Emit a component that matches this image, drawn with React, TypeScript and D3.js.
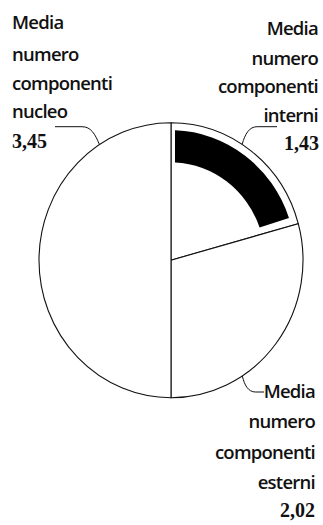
import React from "react";
import * as d3 from "d3";

const categories = ["interni", "esterni", "nucleo"];
const values = [1.43, 2.02, 3.45];
const valueLabels = ["1,43", "2,02", "3,45"];
const labelLines = ["Media", "numero", "componenti"];

const W = 323;
const H = 525;
const cx = 171;
const cy = 260.2;
const R = 132;
const ySquash = 137.5 / 132;

function ellipsePoint(angleDeg: number, r: number) {
  const a = (angleDeg * Math.PI) / 180;
  return [cx + r * Math.sin(a), cy - r * Math.cos(a) * ySquash];
}

export default function App() {
  const pie = d3.pie<number>().sort(null).value((d) => d).startAngle(0).endAngle(2 * Math.PI);
  const slices = pie(values);
  const arc = d3.arc<d3.PieArcDatum<number>>().innerRadius(0).outerRadius(R);
  const band = d3
    .arc<any>()
    .innerRadius(R * 0.712)
    .outerRadius(R * 0.945)
    .padAngle(0.08)
    .padRadius(100);
  const s0 = slices[0];
  const bandPath = band({ startAngle: s0.startAngle, endAngle: s0.endAngle - 0.03 }) || "";

  const sans = "'Open Sans', 'Noto Sans', sans-serif";
  const serif = "'Liberation Serif', 'DejaVu Serif', serif";

  const pNucleo = ellipsePoint(-32.8, R);
  const pInterni = ellipsePoint(32.6, R);
  const pEsterni = ellipsePoint(147.3, R);

  const leftBase = [28.5, 61, 90, 118.3];
  const rightBase = [35, 64.5, 93, 121.5];
  const bottomBase = [398, 428, 459, 489];

  const fs = 18.5;
  const txt = (lines: string[], x: number, bases: number[], anchor: string) =>
    lines.map((l, i) => (
      <text key={l + i} x={x} y={bases[i]} textAnchor={anchor} fontFamily={sans} fontSize={fs} fontWeight={600} letterSpacing={-0.75} fill="#111">
        {l}
      </text>
    ));

  return (
    <div style={{ position: "absolute", left: 0, top: 0 }}>
      <svg width={W} height={H} style={{ display: "block", background: "#fff" }}>
        <g transform={`translate(${cx},${cy}) scale(1,${ySquash}) translate(${-cx},${-cy})`}>
          <g transform={`translate(${cx},${cy})`}>
            {slices.map((s, i) => (
              <path key={categories[i]} d={arc(s) || ""} fill="#fff" stroke="#111" strokeWidth={1.1} vectorEffect="non-scaling-stroke" />
            ))}
            <path d={bandPath} fill="#000" />
          </g>
        </g>

        <path
          d={`M55,126.7 L82,126.7 C91,126.7 95,134 ${pNucleo[0]},${pNucleo[1]}`}
          fill="none"
          stroke="#111"
          strokeWidth={1}
        />
        <path
          d={`M${pInterni[0]},${pInterni[1]} C${pInterni[0] + 3},134 ${pInterni[0] + 7},126.7 ${pInterni[0] + 15},126.7 L277,126.7`}
          fill="none"
          stroke="#111"
          strokeWidth={1}
        />
        <path
          d={`M${pEsterni[0]},${pEsterni[1]} C${pEsterni[0] + 2},385 ${pEsterni[0] + 6},392 ${pEsterni[0] + 13},392 L264,392`}
          fill="none"
          stroke="#111"
          strokeWidth={1}
        />

        {txt([...labelLines, categories[2]], 12, leftBase, "start")}
        <text x={12} y={147.5} fontFamily={serif} fontSize={20} fontWeight={700} fill="#111">
          {valueLabels[2]}
        </text>

        {txt([...labelLines, categories[0]], 318, rightBase, "end")}
        <text x={319} y={150} textAnchor="end" fontFamily={serif} fontSize={20} fontWeight={700} fill="#111">
          {valueLabels[0]}
        </text>

        {txt([...labelLines, categories[1]], 315, bottomBase, "end")}
        <text x={315} y={517} textAnchor="end" fontFamily={serif} fontSize={20} fontWeight={700} fill="#111">
          {valueLabels[1]}
        </text>
      </svg>
    </div>
  );
}
